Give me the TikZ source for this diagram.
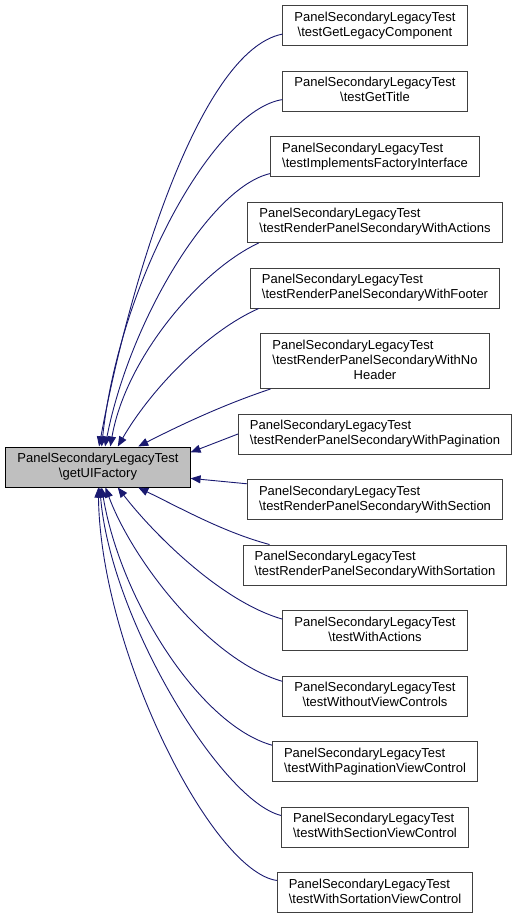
\documentclass[tikz,border=0pt]{standalone}
\usepackage{fontspec}
\setmainfont{Liberation Sans}
\usepackage{tikz}
\usetikzlibrary{arrows.meta,positioning}
\definecolor{callblue}{HTML}{191970}
\definecolor{callgray}{HTML}{404040}
\definecolor{focusgray}{HTML}{BFBFBF}
\newcommand{\calllabel}[2]{\begin{tabular}{@{}l@{}}#1\\\multicolumn{1}{@{}c@{}}{#2}\end{tabular}}

\begin{document}
\begin{tikzpicture}[
  x=1pt, y=-1pt,
  node distance=24.5pt,
  box/.style={draw=callgray,line width=1pt,fill=white,
    font=\fontsize{13}{15}\selectfont,inner xsep=11.5pt,inner ysep=0pt,
    minimum height=40pt},
  focus/.style={box,draw=black,fill=focusgray},
  arrow/.style={-{Triangle[length=10pt,width=8pt]},draw=callblue,line width=0.9pt}
]
\useasboundingbox (0,0) rectangle (517,917);
\node[box] (b1) at (375,26) {\calllabel{PanelSecondaryLegacyTest}{\textbackslash testGetLegacyComponent}};
\node[box, below=of b1] (b2) {\calllabel{PanelSecondaryLegacyTest}{\textbackslash testGetTitle}};
\node[box, below=of b2] (b3) {\calllabel{PanelSecondaryLegacyTest}{\textbackslash testImplementsFactoryInterface}};
\node[box, below=of b3] (b4) {\calllabel{PanelSecondaryLegacyTest}{\textbackslash testRenderPanelSecondaryWithActions}};
\node[box, below=of b4] (b5) {\calllabel{PanelSecondaryLegacyTest}{\textbackslash testRenderPanelSecondaryWithFooter}};
\node[box, below=of b5, minimum height=55pt] (b6) {\calllabel{PanelSecondaryLegacyTest\\\textbackslash testRenderPanelSecondaryWithNo}{Header}};
\node[box, below=of b6] (b7) {\calllabel{PanelSecondaryLegacyTest}{\textbackslash testRenderPanelSecondaryWithPagination}};
\node[box, below=of b7] (b8) {\calllabel{PanelSecondaryLegacyTest}{\textbackslash testRenderPanelSecondaryWithSection}};
\node[box, below=of b8] (b9) {\calllabel{PanelSecondaryLegacyTest}{\textbackslash testRenderPanelSecondaryWithSortation}};
\node[box, below=of b9] (b10) {\calllabel{PanelSecondaryLegacyTest}{\textbackslash testWithActions}};
\node[box, below=of b10] (b11) {\calllabel{PanelSecondaryLegacyTest}{\textbackslash testWithoutViewControls}};
\node[box, below=of b11] (b12) {\calllabel{PanelSecondaryLegacyTest}{\textbackslash testWithPaginationViewControl}};
\node[box, below=of b12] (b13) {\calllabel{PanelSecondaryLegacyTest}{\textbackslash testWithSectionViewControl}};
\node[box, below=of b13] (b14) {\calllabel{PanelSecondaryLegacyTest}{\textbackslash testWithSortationViewControl}};
\node[focus] (main) at (98,467) {\calllabel{PanelSecondaryLegacyTest}{\textbackslash getUIFactory}};

% callers above
\draw[arrow] (b1.185) .. controls +(-82,16) and +(31,-167) .. (main.87);
\draw[arrow] (b2.185) .. controls +(-67,10) and +(18,-167) .. (main.80);
\draw[arrow] (b3.189) .. controls +(-59,13) and +(25,-127) .. (main.71);
\draw[arrow] (b4.190) .. controls +(-60,28) and +(15,-87) .. (main.59);
\draw[arrow] (b5.190) .. controls +(-52,23) and +(33,-57) .. (main.46);
\draw[arrow] (b6.195) .. controls +(-45,15) and +(45,-23) .. (main.27);
\draw[arrow] (b7.west) -- (main.9);
% callers below
\draw[arrow] (b8.173) -- (main.-7);
\draw[arrow] (b9.169) .. controls +(-45,-12) and +(45,22) .. (main.-27);
\draw[arrow] (b10.173) .. controls +(-63,-18) and +(33,43) .. (main.-46);
\draw[arrow] (b11.171) .. controls +(-73,-21) and +(27,73) .. (main.-70);
\draw[arrow] (b12.171) .. controls +(-72,-20) and +(19,113) .. (main.-80);
\draw[arrow] (b13.173) .. controls +(-59,-14) and +(11,133) .. (main.-85);
\draw[arrow] (b14.173) .. controls +(-65,-9) and +(2,163) .. (main.-89);
\end{tikzpicture}
\end{document}
